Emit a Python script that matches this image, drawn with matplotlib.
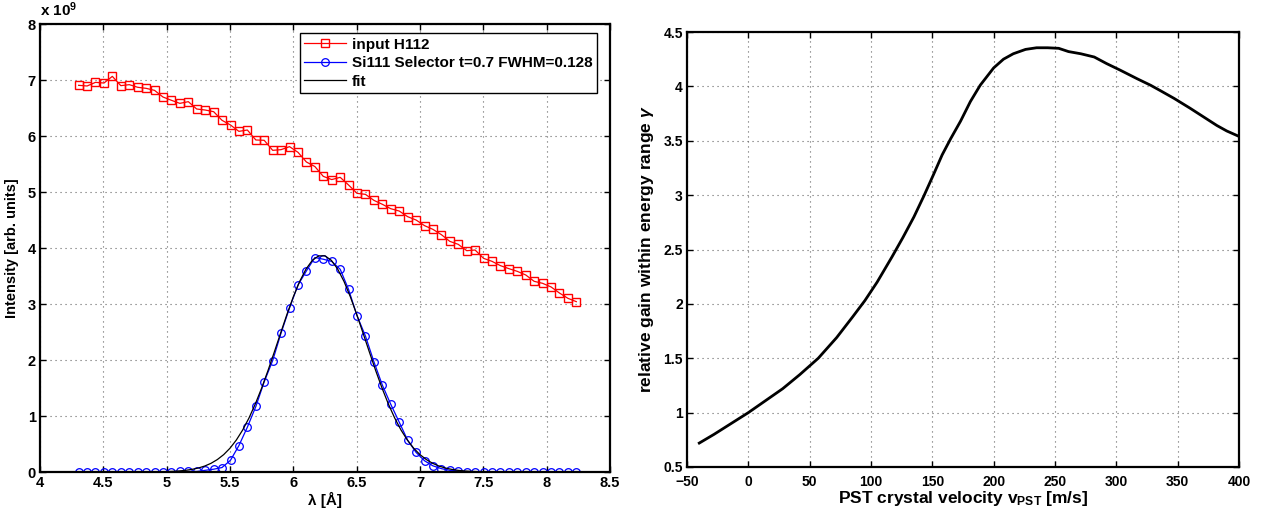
import numpy as np
import matplotlib
matplotlib.use("Agg")
import matplotlib.pyplot as plt
from matplotlib.ticker import FormatStrFormatter

plt.rcParams['font.family'] = ['Liberation Sans', 'DejaVu Sans']
plt.rcParams['font.weight'] = 'bold'
plt.rcParams['mathtext.fontset'] = 'custom'
plt.rcParams['mathtext.rm'] = 'Liberation Sans:bold'
plt.rcParams['mathtext.bf'] = 'Liberation Sans:bold'
plt.rcParams['mathtext.it'] = 'Liberation Sans:italic'

# ---------------- data: left panel ----------------
wavelength = [4.305, 4.372, 4.438, 4.505, 4.571, 4.638, 4.705, 4.771, 4.838, 4.904,
              4.971, 5.038, 5.104, 5.171, 5.237, 5.304, 5.371, 5.437, 5.504, 5.570,
              5.637, 5.704, 5.770, 5.837, 5.903, 5.970, 6.037, 6.103, 6.170, 6.236,
              6.303, 6.370, 6.436, 6.503, 6.569, 6.636, 6.703, 6.769, 6.836, 6.902,
              6.969, 7.036, 7.102, 7.169, 7.235, 7.302, 7.369, 7.435, 7.502, 7.568,
              7.635, 7.702, 7.768, 7.835, 7.901, 7.968, 8.035, 8.101, 8.168, 8.234]
input_h112 = [6.905, 6.893, 6.958, 6.946, 7.065, 6.899, 6.917, 6.870, 6.851, 6.815,
              6.696, 6.637, 6.583, 6.613, 6.482, 6.464, 6.434, 6.280, 6.196, 6.083,
              6.107, 5.929, 5.923, 5.744, 5.756, 5.810, 5.708, 5.536, 5.455, 5.280,
              5.222, 5.262, 5.125, 4.976, 4.958, 4.851, 4.780, 4.702, 4.660, 4.560,
              4.500, 4.399, 4.333, 4.238, 4.119, 4.065, 3.952, 3.964, 3.815, 3.762,
              3.685, 3.631, 3.583, 3.518, 3.405, 3.369, 3.304, 3.196, 3.101, 3.042]
si111 = [0.0, 0.0, 0.0, 0.0, 0.0, 0.0, 0.0, 0.0, 0.0, 0.0,
         0.0, 0.0, 0.01, 0.01, 0.01, 0.03, 0.05, 0.08, 0.21, 0.47,
         0.80, 1.17, 1.61, 1.99, 2.48, 2.93, 3.34, 3.59, 3.83, 3.80,
         3.76, 3.62, 3.26, 2.79, 2.43, 1.97, 1.55, 1.21, 0.89, 0.57,
         0.35, 0.20, 0.11, 0.06, 0.03, 0.02, 0.0, 0.0, 0.0, 0.0,
         0.0, 0.0, 0.0, 0.0, 0.0, 0.0, 0.0, 0.0, 0.0, 0.0]
fit_x = [4.30, 4.60, 4.90, 5.00, 5.05, 5.10, 5.15, 5.20, 5.25, 5.30, 5.35, 5.40,
         5.45, 5.50, 5.55, 5.60, 5.65, 5.70, 5.75, 5.80, 5.85, 5.90, 5.95, 6.00,
         6.05, 6.10, 6.15, 6.20, 6.25, 6.30, 6.35, 6.40, 6.45, 6.50, 6.55, 6.60,
         6.65, 6.70, 6.75, 6.80, 6.85, 6.90, 6.95, 7.00, 7.05, 7.10, 7.15, 7.20,
         7.25, 7.30, 7.35, 7.40, 7.45, 7.55, 7.80, 8.24]
fit_y = [0.0, 0.0, 0.002, 0.007, 0.012, 0.019, 0.030, 0.047, 0.071, 0.106, 0.155, 0.222,
         0.310, 0.425, 0.571, 0.750, 0.965, 1.216, 1.500, 1.812, 2.144, 2.483, 2.817, 3.129,
         3.403, 3.624, 3.780, 3.860, 3.860, 3.780, 3.624, 3.403, 3.129, 2.817, 2.483, 2.144,
         1.812, 1.500, 1.216, 0.965, 0.750, 0.571, 0.425, 0.310, 0.222, 0.155, 0.106, 0.071,
         0.047, 0.030, 0.019, 0.012, 0.007, 0.002, 0.0, 0.0]
left_xticks = [4, 4.5, 5, 5.5, 6, 6.5, 7, 7.5, 8, 8.5]
left_yticks = [0, 1, 2, 3, 4, 5, 6, 7, 8]

# ---------------- data: right panel ----------------
velocity = [-40, -28, -14, 0, 14, 28, 42, 57, 72, 85, 95, 105, 117, 126, 135, 143,
            151, 158, 165, 173, 181, 189, 200, 208, 216, 226, 235, 244, 253, 261,
            271, 282, 292, 303, 317, 328, 336, 347, 360, 371, 382, 390, 400]
gain = [0.72, 0.80, 0.90, 1.00, 1.11, 1.22, 1.35, 1.50, 1.69, 1.88, 2.03, 2.20, 2.43,
        2.61, 2.80, 2.99, 3.19, 3.37, 3.52, 3.68, 3.86, 4.01, 4.17, 4.25, 4.30, 4.34,
        4.355, 4.355, 4.35, 4.32, 4.30, 4.27, 4.21, 4.15, 4.07, 4.01, 3.96, 3.89,
        3.80, 3.72, 3.64, 3.59, 3.54]
right_xticks = [-50, 0, 50, 100, 150, 200, 250, 300, 350, 400]
right_yticks = [0.5, 1, 1.5, 2, 2.5, 3, 3.5, 4, 4.5]

W, H = 1277, 517
fig = plt.figure(figsize=(W / 100, H / 100), dpi=100)
fig.patch.set_facecolor('white')

def px_axes(x0, y0, x1, y1):
    return fig.add_axes([x0 / W, 1 - y1 / H, (x1 - x0) / W, (y1 - y0) / H])

def style(ax, size):
    ax.grid(True, linestyle=(0, (1, 3.5)), color='0.4', linewidth=0.8)
    ax.tick_params(direction='in', length=4, width=1.0, top=True, right=True,
                   labelsize=size, pad=3)
    for lab in ax.get_xticklabels() + ax.get_yticklabels():
        lab.set_fontweight('bold')
    for sp in ax.spines.values():
        sp.set_linewidth(1.6)
        sp.set_color('black')
    ax.set_axisbelow(True)

# ---------------- left panel ----------------
ax1 = px_axes(40, 24, 610, 472)
ax1.plot(wavelength, input_h112, '-s', color='red', lw=0.9, ms=5.5,
         mfc='none', mec='red', mew=1.0, label='input H112')
ax1.plot(wavelength, si111, '-o', color='blue', lw=0.9, ms=5.5,
         mfc='none', mec='blue', mew=0.9, label='Si111 Selector t=0.7 FWHM=0.128')
ax1.plot(fit_x, fit_y, '-', color='black', lw=0.9, label='fit')
ax1.set_xlim(4, 8.5)
ax1.set_ylim(0, 8)
ax1.set_xticks(left_xticks)
ax1.set_yticks(left_yticks)
ax1.xaxis.set_major_formatter(FormatStrFormatter('%g'))
ax1.yaxis.set_major_formatter(FormatStrFormatter('%g'))
style(ax1, 10.5)
ax1.set_xlabel('λ [Å]', fontsize=11, fontweight='bold', labelpad=1)
ax1.set_ylabel('Intensity [arb. units]', fontsize=10.5, fontweight='bold', labelpad=6)
ax1.text(0.0, 1.012, r'x 10$^{9}$', transform=ax1.transAxes, fontsize=11,
         fontweight='bold', ha='left', va='bottom')
leg = ax1.legend(loc='upper right', bbox_to_anchor=(0.977, 0.98), borderaxespad=0,
                 handlelength=2.7, labelspacing=0.3, borderpad=0.3,
                 handletextpad=0.4, fancybox=False, framealpha=1, edgecolor='black',
                 prop={'weight': 'bold', 'size': 11})
leg.get_frame().set_linewidth(1.0)

# ---------------- right panel ----------------
ax2 = px_axes(687, 32, 1239, 467)
ax2.plot(velocity, gain, '-', color='black', lw=2.0)
ax2.set_xlim(-50, 400)
ax2.set_ylim(0.5, 4.5)
ax2.set_xticks(right_xticks)
ax2.set_yticks(right_yticks)
ax2.yaxis.set_major_formatter(FormatStrFormatter('%g'))
style(ax2, 10)
ax2.tick_params(axis='x', pad=5.5)
ax2.set_xlabel(r'PST crystal velocity v$_{\mathbf{PST}}$ [m/s]', fontsize=12.5,
               fontweight='bold', labelpad=0)
ax2.set_ylabel(r'relative gain within energy range $\gamma$', fontsize=12.5,
               fontweight='bold', labelpad=5)

fig.savefig('out.png', dpi=100, facecolor='white')
